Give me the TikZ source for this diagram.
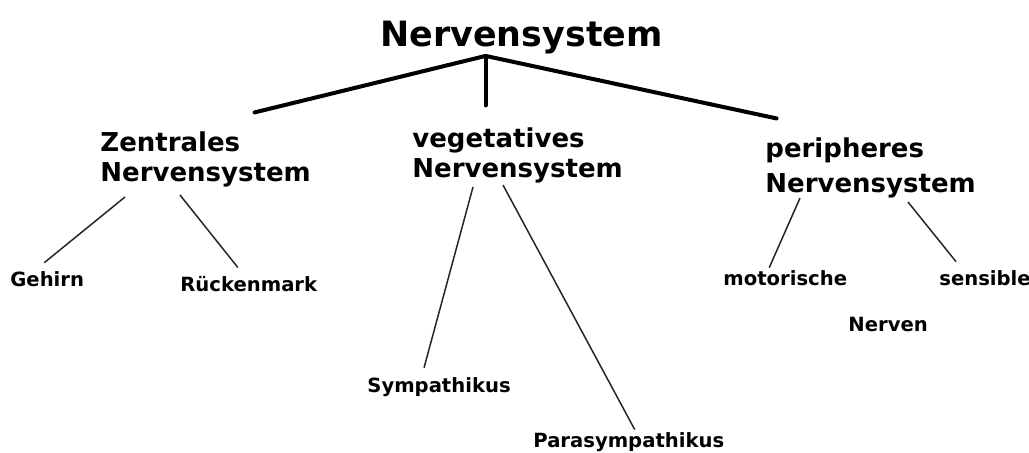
\documentclass[tikz,border=0pt]{standalone}
\usepackage{fontspec}
\setmainfont{DejaVu Sans}

\begin{document}
\begin{tikzpicture}[x=0.5pt, y=-0.5pt,
    topnode/.style={inner sep=0pt, anchor=base west,
      font=\fontsize{17.45}{20}\selectfont\bfseries},
    branchnode/.style={inner sep=0pt, anchor=base west, align=left,
      font=\fontsize{13}{15.2}\selectfont\bfseries},
    leafnode/.style={inner sep=0pt, anchor=base west,
      font=\fontsize{9.8}{12}\selectfont\bfseries},
    trunk/.style={line width=2pt, line cap=round, black},
    twig/.style={line width=0.75pt, black!85}]
  \useasboundingbox (0,0) rectangle (1029,453);
  % top
  \node[topnode] (ns) at (380,47) {Nervensystem};
  \coordinate (fork) at ([shift={(-36,1)}]ns.south);
  % second level (base = last line)
  \node[branchnode] (zns) at (100,182) {Zentrales\\Nervensystem};
  \node[branchnode] (vns) at (412,178) {vegetatives\\Nervensystem};
  \node[branchnode] (pns) at (765,193) {peripheres\\[2.5pt]Nervensystem};
  % leaves
  \node[leafnode] (geh) at (10,287) {Gehirn};
  \node[leafnode] (rm) at (180,292) {Rückenmark};
  \node[leafnode] (sym) at (367,393) {Sympathikus};
  \node[leafnode] (para) at (533,448) {Parasympathikus};
  \node[leafnode] (mot) at (723,286) {motorische};
  \node[leafnode] (sen) at (939,286) {sensible};
  \node[leafnode] (nerv) at (848,332) {Nerven};
  % connectors
  \draw[trunk] (fork) -- ([shift={(49,-19)}]zns.north);
  \draw[trunk] (fork) -- ([yshift=11pt]fork |- vns.north);
  \draw[trunk] (fork) -- ([shift={(-94,-19)}]pns.north);
  \draw[twig] ([shift={(25,9)}]zns.south west) -- ([shift={(-3,-9)}]geh.north);
  \draw[twig] ([shift={(80,7)}]zns.south west) -- ([shift={(-11,-9)}]rm.north);
  \draw[twig] ([shift={(61,3)}]vns.south west) -- ([shift={(-15,-10)}]sym.north);
  \draw[twig] ([shift={(91,1)}]vns.south west) -- ([shift={(6,-3)}]para.north);
  \draw[twig] ([shift={(35,-1)}]pns.south west) -- ([shift={(-16,-3)}]mot.north);
  \draw[twig] ([shift={(143,3)}]pns.south west) -- ([shift={(-29,-9)}]sen.north);
\end{tikzpicture}
\end{document}
